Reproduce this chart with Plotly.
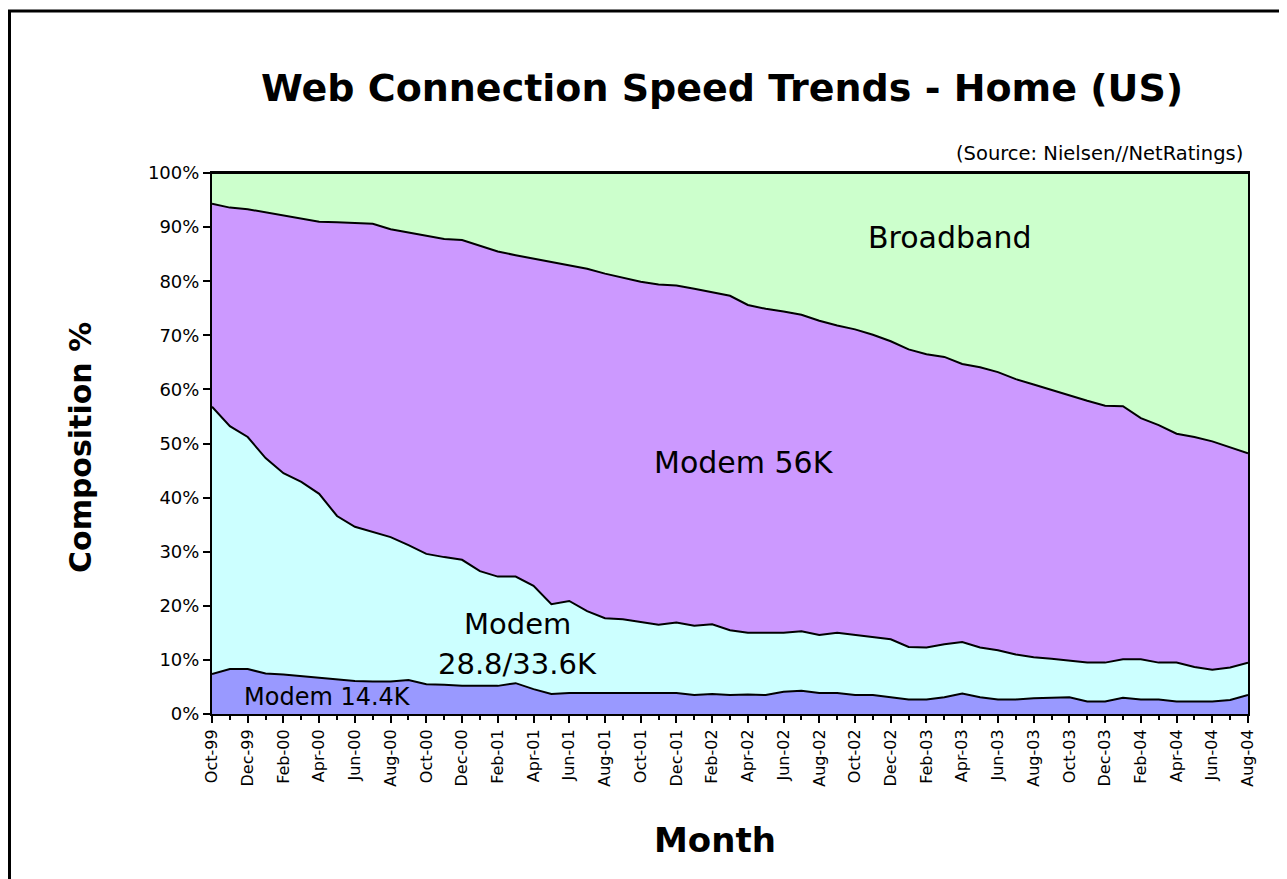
import plotly.graph_objects as go

months = ["Oct-99","Nov-99","Dec-99","Jan-00","Feb-00","Mar-00","Apr-00","May-00","Jun-00","Jul-00",
          "Aug-00","Sep-00","Oct-00","Nov-00","Dec-00","Jan-01","Feb-01","Mar-01","Apr-01","May-01",
          "Jun-01","Jul-01","Aug-01","Sep-01","Oct-01","Nov-01","Dec-01","Jan-02","Feb-02","Mar-02",
          "Apr-02","May-02","Jun-02","Jul-02","Aug-02","Sep-02","Oct-02","Nov-02","Dec-02","Jan-03",
          "Feb-03","Mar-03","Apr-03","May-03","Jun-03","Jul-03","Aug-03","Sep-03","Oct-03","Nov-03",
          "Dec-03","Jan-04","Feb-04","Mar-04","Apr-04","May-04","Jun-04","Jul-04","Aug-04"]

modem_144 = [7.4,8.3,8.3,7.5,7.3,7.0,6.7,6.4,6.1,6.0,
             6.0,6.3,5.5,5.4,5.2,5.2,5.2,5.7,4.6,3.7,
             3.9,3.9,3.9,3.9,3.9,3.9,3.9,3.5,3.7,3.5,
             3.6,3.5,4.1,4.3,3.9,3.9,3.5,3.5,3.1,2.7,
             2.7,3.1,3.8,3.1,2.7,2.7,2.9,3.0,3.1,2.3,
             2.3,3.0,2.7,2.7,2.3,2.3,2.3,2.6,3.5]

modem_288 = [49.4,44.9,42.9,39.8,37.2,35.9,34.0,30.2,28.5,27.6,
             26.7,24.9,24.1,23.6,23.3,21.2,20.2,19.7,19.1,16.6,
             17.0,15.1,13.8,13.6,13.1,12.6,13.0,12.8,12.9,12.0,
             11.4,11.5,10.9,11.0,10.7,11.1,11.1,10.8,10.7,9.7,
             9.6,9.8,9.5,9.2,9.1,8.3,7.6,7.2,6.7,7.2,
             7.2,7.1,7.4,6.8,7.2,6.4,5.9,6.0,6.0]

modem_56 = [37.5,40.4,42.1,45.4,47.6,48.6,50.3,54.3,56.2,57.0,
            56.9,57.8,58.8,58.8,59.1,60.1,60.1,59.4,60.5,63.2,
            62.1,63.3,63.7,63.2,62.9,62.9,62.3,62.3,61.4,61.8,
            60.6,59.9,59.4,58.5,58.1,56.8,56.5,55.8,55.1,55.0,
            54.2,53.1,51.4,51.8,51.4,50.9,50.4,49.7,49.0,48.4,
            47.5,46.8,44.6,43.9,42.3,42.5,42.2,40.7,38.7]

broadband = [5.7,6.4,6.7,7.3,7.9,8.5,9.0,9.1,9.2,9.4,
             10.4,11.0,11.6,12.2,12.4,13.5,14.5,15.2,15.8,16.5,
             17.0,17.7,18.6,19.3,20.1,20.6,20.8,21.4,22.0,22.7,
             24.4,25.1,25.6,26.2,27.3,28.2,28.9,29.9,31.1,32.6,
             33.5,34.0,35.3,35.9,36.8,38.1,39.1,40.1,41.2,42.1,
             43.0,43.1,45.3,46.6,48.2,48.8,49.6,50.7,51.8]

series_names = ["Modem 14.4K", "Modem 28.8/33.6K", "Modem 56K", "Broadband"]
series_values = [modem_144, modem_288, modem_56, broadband]
series_colors = ["#9999FF", "#CCFFFF", "#CC99FF", "#CCFFCC"]

y_ticks = [0, 10, 20, 30, 40, 50, 60, 70, 80, 90, 100]

idx = list(range(len(months)))

fig = go.Figure()
for name, vals, col in zip(series_names, series_values, series_colors):
    fig.add_trace(go.Scatter(
        x=idx, y=vals, name=name, stackgroup="one", mode="lines",
        line=dict(color="black", width=2), fillcolor=col, hoverinfo="skip"))

# page has an 8px body margin; target pixel positions are shifted by it
O = 8
L, R, T, B = 212 - O, 1248 - O, 173 - O, 714 - O
W, H = 1287 - O, 879 - O
def px(x):
    return (x - O - L) / (R - L)
def py(y):
    return (B - (y - O)) / (B - T)

font_main = "DejaVu Sans"

fig.update_layout(
    width=W, height=H,
    margin=dict(l=L, r=W - R, t=T, b=H - B),
    paper_bgcolor="white", plot_bgcolor="white",
    showlegend=False,
    font=dict(family=font_main, color="black"),
)

fig.update_xaxes(
    range=[0, len(months) - 1],
    tickmode="array",
    tickvals=idx[::2],
    ticktext=months[::2],
    tickangle=-90,
    tickfont=dict(size=16, family=font_main),
    ticks="outside", ticklen=7, tickwidth=1.5, tickcolor="black",
    minor=dict(tickmode="linear", tick0=0, dtick=1, ticks="outside", ticklen=4, tickwidth=1.5, tickcolor="black"),
    showline=True, linecolor="black", linewidth=2, mirror=True,
    showgrid=False, zeroline=False,
)

fig.update_yaxes(
    range=[0, 100],
    tickmode="array",
    tickvals=y_ticks,
    ticktext=[f"{v}%" for v in y_ticks],
    tickfont=dict(size=18, family=font_main),
    ticks="outside", ticklen=7, tickwidth=1.5, tickcolor="black",
    showline=True, linecolor="black", linewidth=2, mirror=True,
    showgrid=False, zeroline=False,
)

annotations = [
    dict(text="<b>Web Connection Speed Trends - Home (US)</b>", x=px(722), y=py(88),
         font=dict(size=38, family=font_main)),
    dict(text="(Source: Nielsen//NetRatings)", x=px(1245), y=py(153), xanchor="right",
         font=dict(size=19.5, family=font_main)),
    dict(text="<b>Composition %</b>", x=px(80), y=py(448), textangle=-90,
         font=dict(size=30, family=font_main)),
    dict(text="<b>Month</b>", x=px(715), y=py(840),
         font=dict(size=34, family=font_main)),
]
for a in annotations:
    a.update(xref="paper", yref="paper", showarrow=False)
    a.setdefault("xanchor", "center")
    a.setdefault("yanchor", "middle")

labels = [
    dict(text="Broadband", x=41.3, y=88.0, size=30),
    dict(text="Modem 56K", x=29.8, y=46.4, size=30),
    dict(text="Modem", x=17.1, y=16.6, size=29),
    dict(text="28.8/33.6K", x=17.1, y=9.2, size=29),
    dict(text="Modem 14.4K", x=6.45, y=3.1, size=24),
]
for lb in labels:
    annotations.append(dict(text=lb["text"], x=lb["x"], y=lb["y"], xref="x", yref="y",
                            showarrow=False, xanchor="center", yanchor="middle",
                            font=dict(size=lb["size"], family=font_main, color="black")))

fig.update_layout(annotations=annotations)

fig.add_shape(type="rect", xref="paper", yref="paper",
              x0=px(9.5), x1=px(1300), y0=py(11), y1=py(900),
              line=dict(color="black", width=3), fillcolor="rgba(0,0,0,0)", layer="above")

fig.write_html("out.html")
